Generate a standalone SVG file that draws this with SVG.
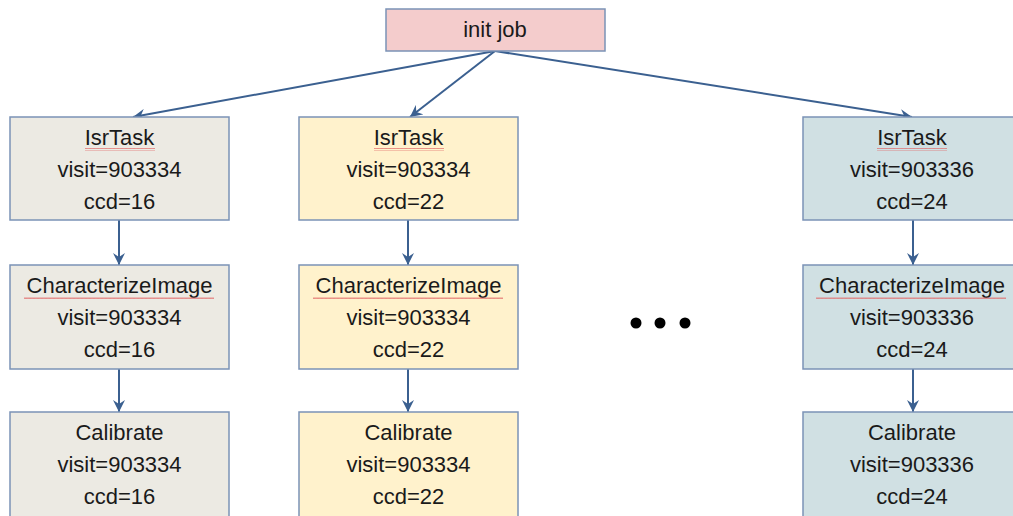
<svg xmlns="http://www.w3.org/2000/svg" width="1013" height="516" viewBox="0 0 1013 516">
<style>
  .box { stroke: #7b93b6; stroke-width: 1.5; }
  .root { fill: #f4cccc; }
  .c1 { fill: #eceae3; }
  .c2 { fill: #fff2cc; }
  .c3 { fill: #d0e0e3; }
  text { font-family: "Liberation Sans", Arial, sans-serif; font-size: 22px; fill: #1a1a1a; text-anchor: middle; }
  .edge { stroke: #3b6090; stroke-width: 2; fill: none; marker-end: url(#arr); }
  .dot { fill: #000; }
</style>
<defs>
  <marker id="arr" markerWidth="14" markerHeight="12" refX="12" refY="6" orient="auto" markerUnits="userSpaceOnUse">
    <path d="M0,0 L12,6 L0,12 L4,6 Z" fill="#3b6090"/>
  </marker>
  <pattern id="wave" width="4" height="3" patternUnits="userSpaceOnUse">
    <path d="M0,2 L1,0.5 L2,2 L3,0.5 L4,2" stroke="#e06666" stroke-width="0.8" fill="none"/>
  </pattern>
</defs>

<g id="connectors">
  <line class="edge" x1="495" y1="51" x2="133" y2="117"/>
  <line class="edge" x1="495" y1="51" x2="410" y2="117"/>
  <line class="edge" x1="495" y1="51" x2="912" y2="117"/>
  <line class="edge" x1="119" y1="220" x2="119" y2="265"/>
  <line class="edge" x1="119" y1="369" x2="119" y2="412"/>
  <line class="edge" x1="408" y1="220" x2="408" y2="265"/>
  <line class="edge" x1="408" y1="369" x2="408" y2="412"/>
  <line class="edge" x1="913" y1="220" x2="913" y2="265"/>
  <line class="edge" x1="913" y1="369" x2="913" y2="412"/>
</g>

<g id="init-job">
  <rect class="box root" x="386" y="9" width="219" height="42"/>
  <text x="495" y="37">init job</text>
</g>

<g id="isr-1">
  <rect class="box c1" x="10" y="117" width="219" height="103"/>
  <text x="119.5" y="145">IsrTask</text>
  <rect x="85" y="148" width="70" height="3" fill="url(#wave)"/>
  <text x="119.5" y="177">visit=903334</text>
  <text x="119.5" y="209">ccd=16</text>
</g>
<g id="char-1">
  <rect class="box c1" x="10" y="265" width="219" height="104"/>
  <text x="119.5" y="293">CharacterizeImage</text>
  <rect x="24" y="296" width="190" height="3" fill="url(#wave)"/>
  <text x="119.5" y="325">visit=903334</text>
  <text x="119.5" y="357">ccd=16</text>
</g>
<g id="cal-1">
  <rect class="box c1" x="10" y="412" width="219" height="110"/>
  <text x="119.5" y="440">Calibrate</text>
  <text x="119.5" y="472">visit=903334</text>
  <text x="119.5" y="504">ccd=16</text>
</g>

<g id="isr-2">
  <rect class="box c2" x="299" y="117" width="219" height="103"/>
  <text x="408.5" y="145">IsrTask</text>
  <rect x="374" y="148" width="70" height="3" fill="url(#wave)"/>
  <text x="408.5" y="177">visit=903334</text>
  <text x="408.5" y="209">ccd=22</text>
</g>
<g id="char-2">
  <rect class="box c2" x="299" y="265" width="219" height="104"/>
  <text x="408.5" y="293">CharacterizeImage</text>
  <rect x="313" y="296" width="190" height="3" fill="url(#wave)"/>
  <text x="408.5" y="325">visit=903334</text>
  <text x="408.5" y="357">ccd=22</text>
</g>
<g id="cal-2">
  <rect class="box c2" x="299" y="412" width="219" height="110"/>
  <text x="408.5" y="440">Calibrate</text>
  <text x="408.5" y="472">visit=903334</text>
  <text x="408.5" y="504">ccd=22</text>
</g>

<g id="isr-3">
  <rect class="box c3" x="803" y="117" width="219" height="103"/>
  <text x="912" y="145">IsrTask</text>
  <rect x="877" y="148" width="70" height="3" fill="url(#wave)"/>
  <text x="912" y="177">visit=903336</text>
  <text x="912" y="209">ccd=24</text>
</g>
<g id="char-3">
  <rect class="box c3" x="803" y="265" width="219" height="104"/>
  <text x="912" y="293">CharacterizeImage</text>
  <rect x="816" y="296" width="190" height="3" fill="url(#wave)"/>
  <text x="912" y="325">visit=903336</text>
  <text x="912" y="357">ccd=24</text>
</g>
<g id="cal-3">
  <rect class="box c3" x="803" y="412" width="219" height="110"/>
  <text x="912" y="440">Calibrate</text>
  <text x="912" y="472">visit=903336</text>
  <text x="912" y="504">ccd=24</text>
</g>

<g id="ellipsis">
  <circle class="dot" cx="636" cy="323" r="5.5"/>
  <circle class="dot" cx="660" cy="323" r="5.5"/>
  <circle class="dot" cx="685" cy="323" r="5.5"/>
</g>
</svg>
